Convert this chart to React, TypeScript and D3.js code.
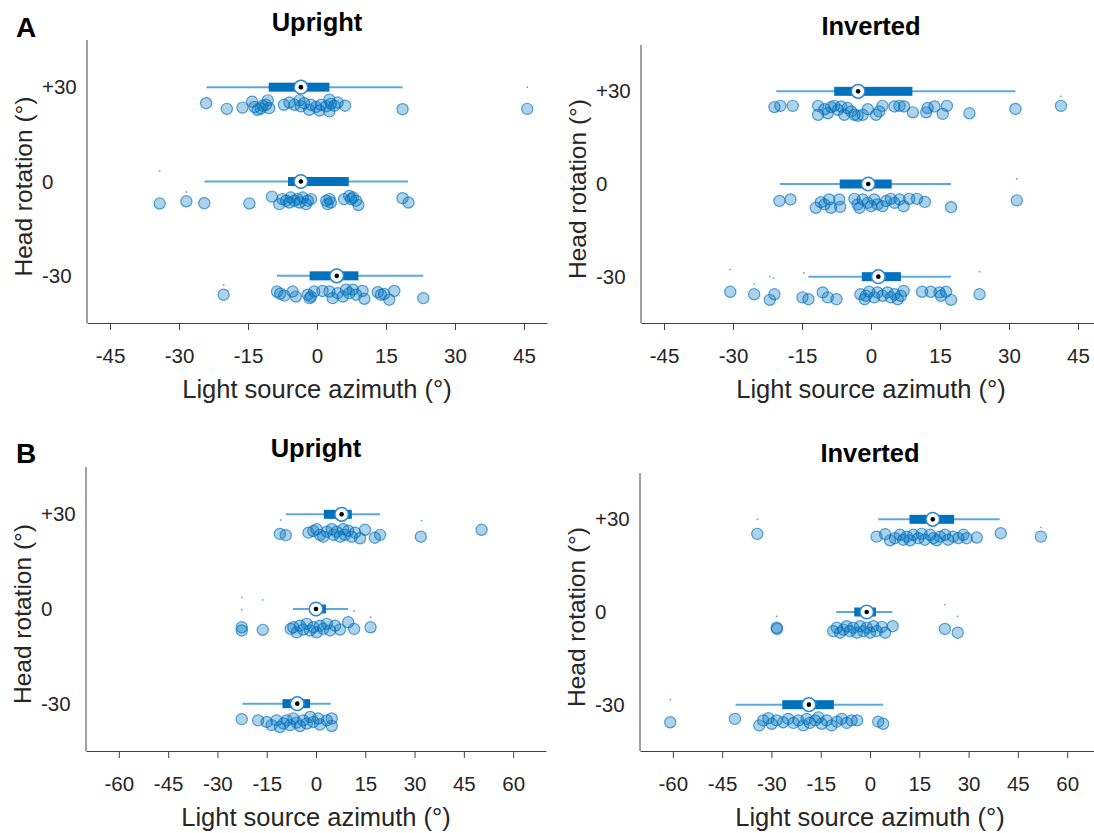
import { useEffect, useRef } from "react";
import * as d3 from "d3";

// head rotation levels (rows) and tick labels
const groups = [30, 0, -30];
const yTickLabels = ["+30", "0", "-30"];
const xTicksA = [-45, -30, -15, 0, 15, 30, 45];
const xTicksB = [-60, -45, -30, -15, 0, 15, 30, 45, 60];

// points: [light source azimuth, jitter below the row (deg)]
const aUpP30 = [[-24.1,5.1],[-19.6,6.9],[-16.2,6.5],[-14.1,4.6],[-13.6,6.3],[-12.9,7.2],[-11.8,5.9],[-10.7,4.2],[-10.4,6.7],[-11.1,5.6],[-12.2,6.8],[-7.2,5.6],[-6.0,4.9],[-4.9,5.6],[-3.8,4.2],[-3.5,6.1],[-2.8,5.1],[-1.7,7.2],[-1.3,5.6],[-0.2,6.3],[0.5,7.4],[0.9,5.6],[2.0,6.1],[2.7,4.0],[2.7,7.7],[3.0,5.3],[3.8,5.9],[4.5,4.9],[6.1,5.9],[18.6,7.0],[45.7,6.9]];
const aUp0 = [[-34.2,7.0],[-28.4,6.3],[-24.5,6.9],[-14.7,7.0],[-9.8,4.8],[-8.2,7.2],[-7.5,5.6],[-6.7,6.1],[-6.0,6.7],[-5.7,5.1],[-4.9,6.1],[-4.2,5.6],[-3.8,6.7],[-3.1,5.1],[-2.4,7.2],[-2.0,6.1],[-1.3,5.6],[2.0,6.1],[2.3,7.2],[3.0,6.7],[2.7,5.6],[5.9,5.6],[7.0,4.6],[7.4,5.6],[7.8,5.1],[8.5,6.1],[9.0,7.5],[18.6,5.3],[19.9,6.7]];
const aUpM30 = [[-20.3,6.0],[-8.7,5.0],[-8.0,5.7],[-7.1,6.3],[-5.3,5.0],[-4.6,6.6],[-2.0,6.0],[-1.3,6.6],[-1.6,7.1],[-0.6,5.0],[1.2,4.8],[2.7,5.0],[3.4,7.1],[4.5,5.5],[5.6,6.6],[6.3,4.4],[7.0,5.5],[7.8,4.4],[8.5,6.0],[9.9,4.8],[10.3,7.3],[13.2,5.2],[13.9,6.0],[14.6,5.8],[15.7,7.6],[16.8,4.8],[23.1,7.1]];

const aInvP30 = [[-21.0,5.1],[-19.7,4.7],[-17.0,4.7],[-11.5,4.7],[-11.5,7.6],[-10.1,5.8],[-9.4,7.1],[-8.7,5.1],[-8.0,4.7],[-7.2,6.0],[-6.5,4.9],[-5.8,7.6],[-5.1,5.4],[-4.3,6.5],[-3.6,7.6],[-2.9,7.9],[-1.8,7.6],[-0.7,5.8],[1.1,7.6],[1.8,6.5],[2.5,4.7],[5.1,4.9],[6.2,4.7],[7.2,4.9],[9.1,6.8],[12.0,6.8],[12.3,5.4],[13.8,4.9],[15.6,7.3],[16.5,4.7],[21.4,7.1],[31.4,5.7],[41.3,4.7]];
const aInv0 = [[-19.9,5.5],[-17.5,5.0],[-12.0,7.7],[-10.9,5.9],[-10.1,6.6],[-9.1,5.0],[-8.7,7.7],[-6.9,5.0],[-6.7,7.4],[-3.6,4.8],[-2.9,6.6],[-2.5,7.7],[-1.8,5.0],[-0.7,6.1],[0,7.2],[0.7,5.0],[1.4,6.6],[2.5,7.2],[3.3,5.5],[4.3,4.8],[5.1,6.1],[6.2,5.0],[7.1,7.2],[8.3,4.8],[10.0,4.8],[11.7,5.8],[17.4,7.5],[31.7,5.3]];
const aInvM30 = [[-30.6,4.9],[-25.4,5.7],[-22.0,7.5],[-21.0,5.7],[-14.9,6.7],[-13.6,7.3],[-10.5,5.1],[-9.4,6.7],[-7.5,7.3],[-2.3,5.7],[-1.4,7.3],[-1.1,6.2],[-0.4,4.9],[0.7,6.7],[1.4,5.1],[2.5,6.2],[3.6,5.1],[4.3,6.7],[5.1,5.7],[5.8,7.3],[6.5,6.2],[7.1,4.6],[11.1,4.9],[13.0,4.9],[14.9,5.1],[15.2,6.2],[16.3,4.9],[17.4,7.5],[23.6,5.7]];

const bUpP30 = [[-11.0,6.2],[-9.2,6.6],[-2.3,5.8],[-0.8,5.3],[0.2,4.7],[1.2,6.5],[2.2,7.1],[3.3,5.5],[4.8,4.7],[5.3,6.5],[6.3,5.5],[7.3,7.1],[8.3,4.7],[8.8,6.5],[9.8,5.2],[10.9,7.1],[11.9,5.8],[13.4,7.6],[14.9,4.9],[17.9,7.4],[19.5,6.5],[31.9,7.1],[50.4,4.9]];
const bUp0 = [[-22.6,5.8],[-22.6,6.8],[-16.2,6.6],[-7.7,6.3],[-6.9,5.8],[-5.9,7.4],[-4.9,5.3],[-3.9,6.5],[-2.8,4.7],[-1.8,6.8],[-0.8,5.8],[0.2,7.4],[1.2,5.3],[2.2,6.3],[3.3,4.7],[4.3,6.8],[5.8,5.3],[7.3,6.5],[9.8,4.2],[11.6,6.3],[16.6,5.8]];
const bUpM30 = [[-22.6,4.9],[-17.6,5.3],[-15.0,5.8],[-13.5,6.8],[-12.0,5.3],[-11.0,7.4],[-9.9,6.3],[-8.9,5.3],[-7.9,6.8],[-6.9,4.7],[-5.9,6.0],[-4.9,7.1],[-3.9,5.3],[-2.8,6.3],[-1.8,4.2],[-0.8,5.8],[0.7,4.7],[1.2,6.6],[3.3,5.3],[4.8,4.7],[4.8,7.1]];

const bInvP30 = [[-34.3,4.7],[2.0,5.6],[4.6,4.8],[6.1,6.8],[7.6,6.1],[9.1,5.0],[10.1,6.6],[11.2,5.6],[12.2,6.8],[13.2,5.0],[14.7,6.1],[15.7,4.7],[16.7,6.6],[18.3,5.0],[19.3,6.1],[20.3,6.8],[21.3,5.6],[22.8,5.0],[23.8,6.6],[25.3,5.6],[26.9,6.1],[28.4,5.0],[29.4,6.1],[32.5,5.9],[39.8,4.5],[52.0,5.6]];
const bInv0 = [[-28.4,5.1],[-28.3,5.5],[-11.2,6.2],[-10.1,5.1],[-9.1,6.7],[-8.1,5.7],[-7.1,4.6],[-6.1,6.2],[-5.1,5.1],[-4.0,6.7],[-3.0,4.6],[-2.0,6.2],[-1.0,5.1],[0,6.7],[1.0,4.6],[2.0,6.2],[3.6,4.8],[4.6,6.7],[6.9,4.6],[22.8,5.5],[26.7,6.7]];
const bInvM30 = [[-60.8,5.7],[-41.1,4.6],[-33.7,6.7],[-32.5,5.1],[-30.9,4.4],[-29.9,6.2],[-28.4,5.1],[-26.4,5.7],[-24.9,4.6],[-23.3,5.9],[-21.8,5.1],[-20.3,6.7],[-19.3,4.6],[-18.3,5.9],[-16.7,5.1],[-15.7,4.1],[-14.7,6.2],[-13.2,5.1],[-11.7,6.7],[-10.1,5.5],[-8.6,4.6],[-7.1,5.9],[-5.6,5.1],[-3.9,5.1],[2.5,5.5],[4.0,6.2]];

// box stats per row: [whisker lo, q1, median, q3, whisker hi]
const aUpBox = [[-24, -10.5, -3.5, 2.7, 18.6], [-24.5, -6.3, -3.5, 6.9, 19.8], [-8.7, -1.6, 4.3, 9.0, 23.1]];
const aInvBox = [[-20.6, -8, -2.8, 9.0, 31.4], [-19.8, -6.8, -0.6, 4.5, 17.4], [-13.6, -2, 1.6, 6.5, 17.4]];
const bUpBox = [[-9.2, 2.4, 7.8, 10.9, 19.5], [-7.0, -0.5, 0, 3.0, 9.8], [-22.4, -10.2, -5.7, -1.8, 4.5]];
const bInvBox = [[2.5, 12.0, 19.1, 25.6, 39.5], [-10.3, -4.8, -1.0, 1.8, 6.8], [-40.9, -26.7, -18.6, -11.0, 4.0]];

// outlier marks: [row, azimuth, offset below row]
const aUpOut = [[30, 45.7, 0], [0, -34.2, -3.4], [0, -28.4, 3.3], [-30, -20.3, 2.9]];
const aInvOut = [[30, 41.3, 1.6], [0, 31.7, -1.7], [-30, -30.6, -2.3], [-30, -25.4, 2.4], [-30, -22.0, 0], [-30, -21.2, 0.4], [-30, -14.6, -1.2], [-30, 23.6, -1.6]];
const bUpOut = [[30, -10.7, 1.8], [30, 32.1, 2.0], [0, -22.6, -3.7], [0, -22.6, 0.2], [0, -16.2, -2.9], [0, 11.6, 0.6], [0, 16.6, 2.6]];
const bInvOut = [[30, -34.3, 0], [30, 52.0, 2.6], [0, -28.4, 1.4], [0, 22.8, -2.4], [0, 26.7, 1.4], [-30, -60.8, -1.6]];

const panels = [
  { title: "Upright", letter: "A", left: 87, right: 547, top: 40, bottom: 323, titleY: 31, xDomain: [-50, 50], xTicks: xTicksA, pts: [aUpP30, aUp0, aUpM30], box: aUpBox, out: aUpOut },
  { title: "Inverted", letter: "", left: 641, right: 1101, top: 45, bottom: 323, titleY: 35, xDomain: [-50, 50], xTicks: xTicksA, pts: [aInvP30, aInv0, aInvM30], box: aInvBox, out: aInvOut },
  { title: "Upright", letter: "B", left: 86, right: 546, top: 467, bottom: 751, titleY: 457, xDomain: [-70, 70], xTicks: xTicksB, pts: [bUpP30, bUp0, bUpM30], box: bUpBox, out: bUpOut },
  { title: "Inverted", letter: "", left: 640, right: 1100, top: 473, bottom: 751, titleY: 462, xDomain: [-70, 70], xTicks: xTicksB, pts: [bInvP30, bInv0, bInvM30], box: bInvBox, out: bInvOut },
];

const FONT = "'Liberation Sans', Arial, Helvetica, sans-serif";
const INK = "#262626";
const BLUE = "#0072BD";

export default function App() {
  const svgRef = useRef(null);

  useEffect(() => {
    const svg = d3.select(svgRef.current);
    svg.selectAll("*").remove();

    panels.forEach((p) => {
      const x = d3.scaleLinear().domain(p.xDomain).range([p.left, p.right]);
      const y = d3.scaleLinear().domain([-45, 45]).range([p.bottom, p.top]);
      const g = svg.append("g");

      // x axis
      const xAxis = g.append("g")
        .attr("transform", `translate(0,${p.bottom})`)
        .call(d3.axisBottom(x).tickValues(p.xTicks).tickSize(7).tickSizeOuter(0).tickPadding(18).tickFormat((d) => String(d)));
      xAxis.select(".domain").attr("stroke", "#404040");
      xAxis.selectAll(".tick line").attr("stroke", "#404040");
      xAxis.selectAll("text").attr("font-family", FONT).attr("font-size", 20.5).attr("fill", INK);

      // y axis line (no ticks)
      g.append("line")
        .attr("x1", p.left).attr("x2", p.left)
        .attr("y1", p.top).attr("y2", p.bottom)
        .attr("stroke", "#404040");

      g.selectAll("text.ytick")
        .data(groups)
        .join("text")
        .attr("class", "ytick")
        .attr("x", p.left - 45)
        .attr("y", (d) => y(d) + 7)
        .attr("font-family", FONT).attr("font-size", 20.5).attr("fill", INK)
        .text((d, i) => yTickLabels[i]);

      // labels
      g.append("text")
        .attr("x", (p.left + p.right) / 2)
        .attr("y", p.bottom + 75)
        .attr("text-anchor", "middle")
        .attr("font-family", FONT).attr("font-size", 25.5).attr("fill", INK)
        .text("Light source azimuth (°)");

      g.append("text")
        .attr("transform", `translate(${p.left - 55},${(p.top + p.bottom) / 2 + 5}) rotate(-90)`)
        .attr("text-anchor", "middle")
        .attr("font-family", FONT).attr("font-size", 24.5).attr("fill", INK)
        .text("Head rotation (°)");

      g.append("text")
        .attr("x", (p.left + p.right) / 2)
        .attr("y", p.titleY)
        .attr("text-anchor", "middle")
        .attr("font-family", FONT).attr("font-size", 25.5).attr("font-weight", 700).attr("fill", "#000")
        .text(p.title);

      if (p.letter) {
        g.append("text")
          .attr("x", 16).attr("y", p.titleY + 6)
          .attr("font-family", FONT).attr("font-size", 28).attr("font-weight", 700).attr("fill", "#000")
          .text(p.letter);
      }

      // scatter points
      groups.forEach((gv, i) => {
        g.append("g").selectAll("circle")
          .data(p.pts[i])
          .join("circle")
          .attr("cx", (d) => x(d[0]))
          .attr("cy", (d) => y(gv - d[1]))
          .attr("r", 5.6)
          .attr("fill", BLUE).attr("fill-opacity", 0.32)
          .attr("stroke", BLUE).attr("stroke-opacity", 0.65).attr("stroke-width", 1.2);
      });

      // outlier marks
      g.append("g").selectAll("circle")
        .data(p.out)
        .join("circle")
        .attr("cx", (d) => x(d[1]))
        .attr("cy", (d) => y(d[0] - d[2]))
        .attr("r", 0.9)
        .attr("fill", "#5EA8E0");

      // compact boxplots
      groups.forEach((gv, i) => {
        const [lo, q1, med, q3, hi] = p.box[i];
        const cy = y(gv);
        g.append("line")
          .attr("x1", x(lo)).attr("x2", x(hi))
          .attr("y1", cy).attr("y2", cy)
          .attr("stroke", "#5EA8E0").attr("stroke-width", 2);
        g.append("rect")
          .attr("x", x(q1)).attr("width", x(q3) - x(q1))
          .attr("y", cy - 4.5).attr("height", 9)
          .attr("fill", BLUE);
        g.append("circle")
          .attr("cx", x(med)).attr("cy", cy).attr("r", 6.8)
          .attr("fill", "#fff").attr("stroke", "#2E86D1").attr("stroke-width", 1.5);
        g.append("circle")
          .attr("cx", x(med)).attr("cy", cy).attr("r", 2.3)
          .attr("fill", "#000");
      });
    });
  }, []);

  return (
    <svg
      ref={svgRef}
      width={1094}
      height={833}
      style={{ position: "absolute", left: 0, top: 0, background: "#fff" }}
    />
  );
}
